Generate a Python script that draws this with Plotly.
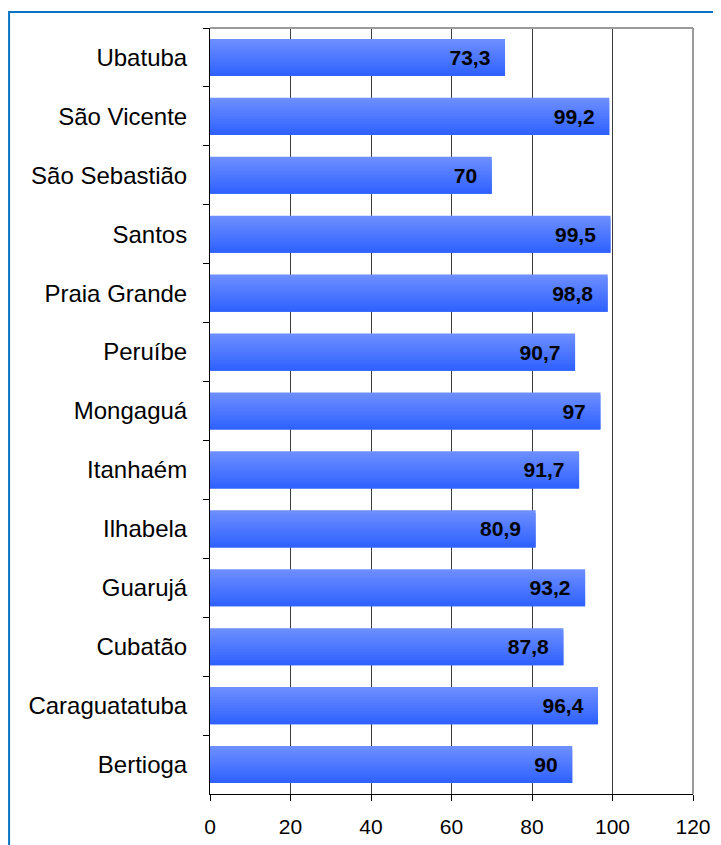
import plotly.graph_objects as go

cities = ["Ubatuba", "São Vicente", "São Sebastião", "Santos", "Praia Grande", "Peruíbe",
          "Mongaguá", "Itanhaém", "Ilhabela", "Guarujá", "Cubatão", "Caraguatatuba", "Bertioga"]
values = [73.3, 99.2, 70, 99.5, 98.8, 90.7, 97, 91.7, 80.9, 93.2, 87.8, 96.4, 90]
labels = ["73,3", "99,2", "70", "99,5", "98,8", "90,7", "97", "91,7", "80,9", "93,2", "87,8", "96,4", "90"]

fig = go.Figure()

# fake vertical gradient: overlapping thin bars, light on top -> darker at bottom
bar_w = 0.63
n_bands = 14
top_rgb = (108, 142, 255)
bot_rgb = (48, 98, 255)
band = bar_w / n_bands
for i in range(n_bands):
    t = i / (n_bands - 1)
    c = tuple(round(top_rgb[k] + (bot_rgb[k] - top_rgb[k]) * t) for k in range(3))
    w = band if i == n_bands - 1 else band * 2
    # reversed y axis: negative offset is visually on top
    fig.add_trace(go.Bar(
        y=cities, x=values, orientation="h",
        width=w, offset=-bar_w / 2 + i * band,
        marker=dict(color="rgb(%d,%d,%d)" % c, line=dict(width=0)),
        hoverinfo="skip", showlegend=False,
    ))

# labels
fig.add_trace(go.Bar(
    y=cities, x=values, orientation="h", width=bar_w,
    marker=dict(color="rgba(0,0,0,0)", line=dict(width=0)),
    text=["<b>" + s + "</b>\u00a0\u00a0" for s in labels],
    textposition="inside", insidetextanchor="end",
    textfont=dict(family="Liberation Sans, Arial", size=21, color="black"),
    cliponaxis=False, showlegend=False,
))

# page body has an 8px margin, so the figure is a bit smaller than the window
fig.update_layout(
    barmode="overlay",
    width=713, height=837,
    margin=dict(l=202, r=28, t=20, b=51),
    paper_bgcolor="white", plot_bgcolor="white",
    font=dict(family="Liberation Sans, Arial", size=22, color="black"),
    uniformtext=dict(minsize=21, mode="show"),
)
fig.update_xaxes(
    range=[0, 120], dtick=20, tick0=0, automargin=False,
    showgrid=True, gridcolor="#3c3c3c", gridwidth=1,
    zeroline=False, showline=True, linecolor="black", linewidth=1,
    ticks="outside", ticklen=6, tickcolor="black",
    tickfont=dict(size=21), ticklabelstandoff=8,
)
fig.update_yaxes(
    autorange="reversed", showgrid=False, zeroline=False, automargin=False,
    showline=True, linecolor="black", linewidth=1,
    ticks="outside", ticklen=6, tickcolor="black", tickson="boundaries",
    tickfont=dict(size=24), ticklabelstandoff=17,
)

# gray top and right frame of the plot area
fig.add_shape(type="line", xref="x domain", yref="y domain", x0=0, x1=1, y0=1, y1=1,
              line=dict(color="#9a9a9a", width=2))
fig.add_shape(type="line", xref="x domain", yref="y domain", x0=1, x1=1, y0=0, y1=1,
              line=dict(color="#9a9a9a", width=2))
# blue outer chart border (extends past the window edges)
fig.add_shape(type="rect", xref="paper", yref="paper", x0=-0.416, x1=1.2, y0=-0.2, y1=1.0209,
              line=dict(color="#0a74c4", width=2), layer="below")

fig.write_html("out.html")
